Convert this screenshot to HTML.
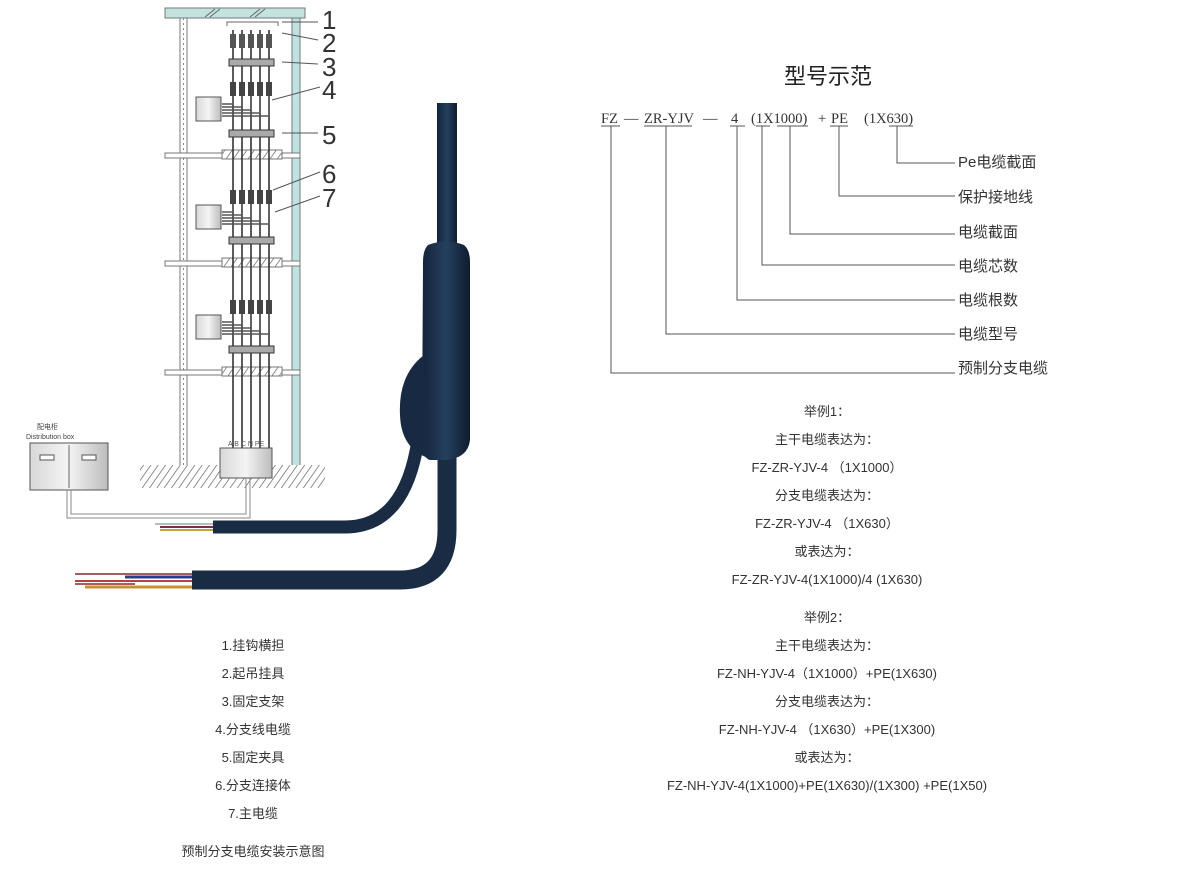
<!DOCTYPE html>
<html><head><meta charset="utf-8"><style>
html,body{margin:0;padding:0;background:#fff;}
body{width:1178px;height:870px;position:relative;overflow:hidden;font-family:"Liberation Sans","Noto Sans CJK SC",sans-serif;color:#333;}
svg{position:absolute;left:0;top:0;}
</style></head><body>
<svg width="1178" height="870" viewBox="0 0 1178 870" xmlns="http://www.w3.org/2000/svg">
<defs>
<pattern id="h" width="6" height="6" patternUnits="userSpaceOnUse" patternTransform="rotate(35)">
<rect width="6" height="6" fill="#fff"/><line x1="0" y1="0" x2="0" y2="6" stroke="#555" stroke-width="1.3"/></pattern>
<linearGradient id="cab" x1="0" x2="1" y1="0" y2="0"><stop offset="0" stop-color="#14243a"/><stop offset="0.5" stop-color="#24405e"/><stop offset="1" stop-color="#0f1c2e"/></linearGradient>
<linearGradient id="box" x1="0" x2="1"><stop offset="0" stop-color="#d8d8d8"/><stop offset="0.5" stop-color="#f4f4f4"/><stop offset="1" stop-color="#bcbcbc"/></linearGradient>
</defs>

<!-- building -->
<rect x="165" y="8" width="140" height="10" fill="#c3e3e1" stroke="#777"/>
<line x1="205" y1="17" x2="215" y2="9" stroke="#666"/><line x1="210" y1="17" x2="220" y2="9" stroke="#666"/>
<line x1="250" y1="17" x2="260" y2="9" stroke="#666"/><line x1="255" y1="17" x2="265" y2="9" stroke="#666"/>
<rect x="180" y="18" width="7" height="452" fill="#fff" stroke="#777"/>
<line x1="183.5" y1="18" x2="183.5" y2="470" stroke="#888" stroke-dasharray="2 3"/>
<rect x="292" y="18" width="8" height="452" fill="#bfe3e0" stroke="#777"/>
<g stroke="#777" fill="#fff">
<rect x="165" y="153" width="135" height="5"/><rect x="222" y="150" width="60" height="9" fill="url(#h)"/>
<rect x="165" y="261" width="135" height="5"/><rect x="222" y="258" width="60" height="9" fill="url(#h)"/>
<rect x="165" y="370" width="135" height="5"/><rect x="222" y="367" width="60" height="9" fill="url(#h)"/>
</g>
<rect x="140" y="465" width="185" height="23" fill="url(#h)"/>
<path d="M227 26 V22 H278 V26" fill="none" stroke="#666"/>
<g stroke="#333" stroke-width="1.6">
<line x1="233" y1="30" x2="233" y2="450"/><line x1="242" y1="30" x2="242" y2="450"/><line x1="251" y1="30" x2="251" y2="450"/><line x1="260" y1="30" x2="260" y2="450"/><line x1="269" y1="30" x2="269" y2="450"/>
</g>
<g fill="#555">
<rect x="230" y="34" width="6" height="14"/><rect x="239" y="34" width="6" height="14"/><rect x="248" y="34" width="6" height="14"/><rect x="257" y="34" width="6" height="14"/><rect x="266" y="34" width="6" height="14"/>
</g>
<g fill="#aaa" stroke="#333">
<rect x="229" y="59" width="45" height="7"/><rect x="229" y="130" width="45" height="7"/><rect x="229" y="237" width="45" height="7"/><rect x="229" y="346" width="45" height="7"/>
</g>
<g id="fl">
<g fill="#444"><rect x="230" y="82" width="6" height="14"/><rect x="239" y="82" width="6" height="14"/><rect x="248" y="82" width="6" height="14"/><rect x="257" y="82" width="6" height="14"/><rect x="266" y="82" width="6" height="14"/></g>
<path d="M222 104 H233 V96 M222 107 H242 V96 M222 110 H251 V96 M222 113 H260 V96 M222 116 H269 V96" fill="none" stroke="#555" stroke-width="1.4"/>
<rect x="196" y="97" width="25" height="24" fill="url(#box)" stroke="#555"/>
</g>
<use href="#fl" y="108"/><use href="#fl" y="218"/>
<rect x="220" y="448" width="52" height="30" fill="url(#box)" stroke="#555"/>
<text x="228" y="446" font-size="7" fill="#555">A B C N PE</text>
<g stroke="#555" stroke-width="1" fill="none">
<line x1="282" y1="22" x2="318" y2="22"/><line x1="282" y1="33" x2="318" y2="40"/><line x1="282" y1="62" x2="318" y2="64"/>
<line x1="272" y1="100" x2="320" y2="87"/><line x1="282" y1="133" x2="318" y2="133"/>
<line x1="273" y1="190" x2="320" y2="172"/><line x1="275" y1="212" x2="320" y2="196"/>
</g>
<g font-size="26" fill="#333" font-family="Liberation Sans,sans-serif">
<text x="322" y="29">1</text><text x="322" y="52">2</text><text x="322" y="76">3</text><text x="322" y="99">4</text><text x="322" y="144">5</text><text x="322" y="183">6</text><text x="322" y="207">7</text>
</g>
<text x="37" y="429" font-size="7" fill="#444">配电柜</text>
<text x="26" y="439" font-size="7" fill="#444">Distribution box</text>
<rect x="30" y="443" width="78" height="47" fill="url(#box)" stroke="#555"/>
<line x1="69" y1="445" x2="69" y2="488" stroke="#666"/>
<rect x="40" y="455" width="14" height="5" fill="#fff" stroke="#555"/><rect x="82" y="455" width="14" height="5" fill="#fff" stroke="#555"/>
<path d="M67 490 V518 H250 V478 M71 490 V514 H246 V478" fill="none" stroke="#888"/>
<!-- cable -->
<path d="M213 527 H345 Q405 527 418 440" fill="none" stroke="#1a2c44" stroke-width="13"/>
<path d="M192 580 H400 Q447 580 447 530 V440" fill="none" stroke="#1a2c44" stroke-width="19"/>
<rect x="437" y="103" width="20" height="145" fill="url(#cab)"/>
<path d="M428 245 Q446 238 464 245 Q470 250 470 262 L470 440 Q468 458 446 460 L430 460 Q422 458 422 440 L423 262 Q423 250 428 245 Z" fill="url(#cab)"/>
<path d="M424 355 Q398 375 400 415 Q401 448 428 458 Z" fill="#172a42"/>
<g stroke-width="2">
<line x1="155" y1="524" x2="213" y2="524" stroke="#bbb"/><line x1="160" y1="527" x2="213" y2="527" stroke="#7a2e4a"/><line x1="160" y1="530" x2="213" y2="530" stroke="#caa03a"/>
<line x1="75" y1="574" x2="192" y2="574" stroke="#a06060"/><line x1="125" y1="577" x2="192" y2="577" stroke="#2a3c8c" stroke-width="3"/>
<line x1="75" y1="581" x2="192" y2="581" stroke="#b84040"/><line x1="85" y1="587" x2="192" y2="587" stroke="#c89030" stroke-width="3"/><line x1="75" y1="584" x2="135" y2="584" stroke="#a86050"/>
</g>

<!-- right section -->
<text x="828" y="84" font-size="22" text-anchor="middle" fill="#222">型号示范</text>
<g font-family="Liberation Serif,serif" font-size="14.5" fill="#333">
<text x="601" y="123">FZ</text><text x="624" y="123">—</text><text x="644" y="123">ZR-YJV</text><text x="703" y="123">—</text>
<text x="731" y="123">4</text><text x="751" y="123">(1X1000)</text><text x="818" y="123">+</text><text x="831" y="123">PE</text><text x="864" y="123">(1X630)</text>
</g>
<g stroke="#555" stroke-width="1" fill="none">
<path d="M601 126 H620 M644 126 H692 M730 126 H745 M756 126 H770 M777 126 H808 M830 126 H848 M889 126 H913"/>
<path d="M611 126 V373 H955 M666 126 V334 H955 M737 126 V300 H955 M762 126 V265 H955 M790 126 V234 H955 M839 126 V196 H955 M897 126 V163 H955"/>
</g>
<g font-size="15" fill="#333">
<text x="958" y="167">Pe电缆截面</text><text x="958" y="202">保护接地线</text><text x="958" y="237">电缆截面</text><text x="958" y="271">电缆芯数</text><text x="958" y="305">电缆根数</text><text x="958" y="339">电缆型号</text><text x="958" y="373">预制分支电缆</text>
</g>
<g font-size="13" fill="#333" text-anchor="middle">
<text x="827" y="416">举例1：</text><text x="827" y="444">主干电缆表达为：</text><text x="827" y="472">FZ-ZR-YJV-4 （1X1000）</text><text x="827" y="500">分支电缆表达为：</text><text x="827" y="528">FZ-ZR-YJV-4 （1X630）</text><text x="827" y="556">或表达为：</text><text x="827" y="584">FZ-ZR-YJV-4(1X1000)/4 (1X630)</text>
<text x="827" y="622">举例2：</text><text x="827" y="650">主干电缆表达为：</text><text x="827" y="678">FZ-NH-YJV-4（1X1000）+PE(1X630)</text><text x="827" y="706">分支电缆表达为：</text><text x="827" y="734">FZ-NH-YJV-4 （1X630）+PE(1X300)</text><text x="827" y="762">或表达为：</text><text x="827" y="790">FZ-NH-YJV-4(1X1000)+PE(1X630)/(1X300) +PE(1X50)</text>
<text x="253" y="650">1.挂钩横担</text><text x="253" y="678">2.起吊挂具</text><text x="253" y="706">3.固定支架</text><text x="253" y="734">4.分支线电缆</text><text x="253" y="762">5.固定夹具</text><text x="253" y="790">6.分支连接体</text><text x="253" y="818">7.主电缆</text>
<text x="253" y="856">预制分支电缆安装示意图</text>
</g>
</svg>
</body></html>
